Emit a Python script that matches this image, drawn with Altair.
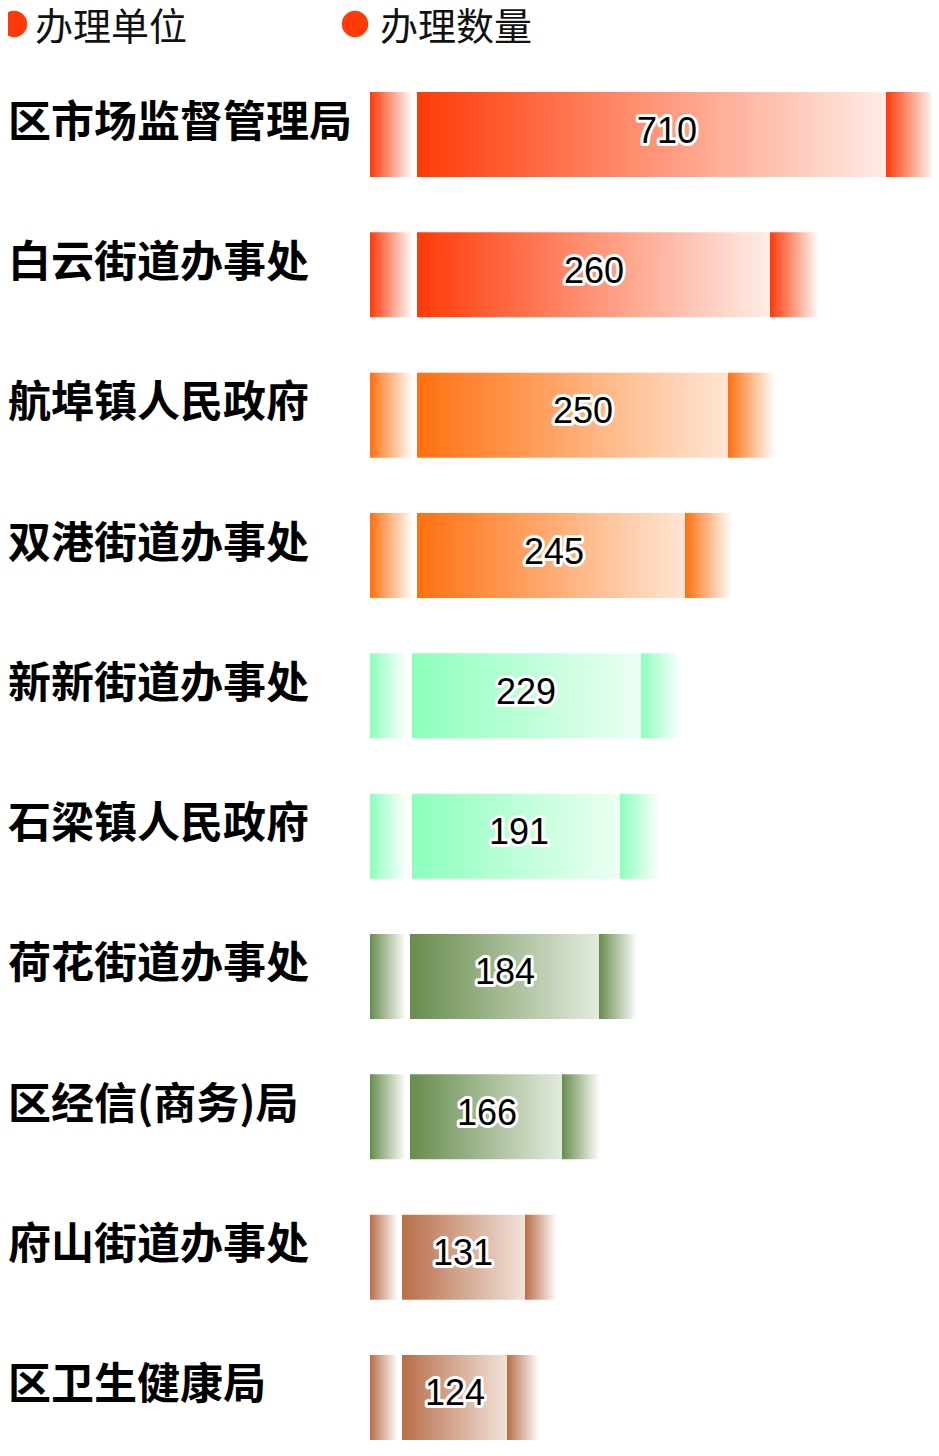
import altair as alt
import pandas as pd

# ---------------- data ----------------
UNITS = ["区市场监督管理局", "白云街道办事处", "航埠镇人民政府", "双港街道办事处",
         "新新街道办事处", "石梁镇人民政府", "荷花街道办事处", "区经信(商务)局",
         "府山街道办事处", "区卫生健康局"]
VALUES = [710, 260, 250, 245, 229, 191, 184, 166, 131, 124]
GROUPS = ["red", "red", "orange", "orange", "mint", "mint", "green", "green", "brown", "brown"]
LEGEND = ["办理单位", "办理数量"]

df = pd.DataFrame({"unit": UNITS, "value": VALUES, "group": GROUPS})

# ---------------- styles ----------------
STYLE = {
    "red":    dict(c="#FF3A08", light="#FFEDE6", shift=0,   gap=4, rcap=49),
    "orange": dict(c="#FF7010", light="#FFE6D4", shift=0,   gap=4, rcap=47),
    "mint":   dict(c="#8CFFBC", light="#ECFFF3", shift=-5,  gap=5, rcap=40),
    "green":  dict(c="#678C4C", light="#E2EADD", shift=-7,  gap=4, rcap=38),
    "brown":  dict(c="#B86E48", light="#F1E2DA", shift=-15, gap=4, rcap=32),
}

# decorative (non-linear) x scale: value -> pixel of bar end
BASE_PX = 409   # where value 0 (start of main bar) sits
CAP_LEFT_PX = 362
END_PX = {124: 499, 131: 517, 166: 554, 184: 591, 191: 612,
          229: 633, 245: 677, 250: 720, 260: 762, 710: 878}
dom = [0] + sorted(END_PX)
rng = [BASE_PX] + [END_PX[v] for v in sorted(END_PX)]
XS = alt.Scale(domain=dom, range=rng, zero=False, nice=False)

# value-label scale: where each number label is centred
LABEL_PX = {124: 447, 131: 455, 166: 479, 184: 497, 191: 511,
            229: 518, 245: 546, 250: 575, 260: 586, 710: 659}
tdom = sorted(LABEL_PX)
XT = alt.Scale(domain=tdom, range=[LABEL_PX[v] for v in tdom], zero=False, nice=False)

YS = alt.Scale(range=[84, 1432], paddingInner=0.394, paddingOuter=0)
Y = alt.Y("unit:N", sort=UNITS, scale=YS, axis=None)


def grad(c1, c2):
    return alt.LinearGradient(
        gradient="linear", x1=0, x2=1, y1=0, y2=0,
        stops=[alt.GradientStop(offset=0, color=c1),
               alt.GradientStop(offset=1, color=c2)])


base = alt.Chart(df).transform_calculate(zero="0")
bar_layers = []
for g, s in STYLE.items():
    sub = base.transform_filter(alt.datum.group == g)
    # left cap
    bar_layers.append(
        sub.mark_bar(color=grad(s["c"], "#FFFFFF"),
                     xOffset=CAP_LEFT_PX - BASE_PX,
                     x2Offset=s["shift"] - s["gap"]).encode(
            x=alt.X("zero:Q", scale=XS, axis=None),
            x2=alt.X2("zero:Q"),
            y=Y))
    # main bar
    bar_layers.append(
        sub.mark_bar(color=grad(s["c"], s["light"]), xOffset=s["shift"]).encode(
            x=alt.X("zero:Q", scale=XS, axis=None),
            x2=alt.X2("value:Q"),
            y=Y))
    # right cap
    bar_layers.append(
        sub.mark_bar(color=grad(s["c"], "#FFFFFF"), x2Offset=s["rcap"]).encode(
            x=alt.X("value:Q", scale=XS, axis=None),
            x2=alt.X2("value:Q"),
            y=Y))

bars = alt.layer(*bar_layers)

tbase = alt.Chart(df)
halo = tbase.mark_text(font="Liberation Sans", fontSize=36, stroke="white",
                       strokeWidth=6, strokeJoin="round", color="white",
                       baseline="middle", align="center", dy=-3).encode(
    x=alt.X("value:Q", scale=XT, axis=None), y=Y, text="value:Q")
txt = tbase.mark_text(font="Liberation Sans", fontSize=36, color="#000000",
                      baseline="middle", align="center", dy=-3).encode(
    x=alt.X("value:Q", scale=XT, axis=None), y=Y, text="value:Q")
values_layer = alt.layer(halo, txt)

labels = tbase.mark_text(font="Noto Sans CJK SC", fontWeight="bold", fontSize=43,
                         color="#000000", align="left", baseline="middle",
                         dy=-11).encode(
    x=alt.value(0), y=Y, text="unit:N")

leg_df = pd.DataFrame({"t": LEGEND})
leg1 = alt.Chart(leg_df).transform_filter(alt.datum.t == LEGEND[0])
leg2 = alt.Chart(leg_df).transform_filter(alt.datum.t == LEGEND[1])
legend = alt.layer(
    leg1.mark_circle(size=700, color="#FF3A08", opacity=1).encode(
        x=alt.value(6), y=alt.value(16)),
    leg1.mark_text(font="Noto Sans CJK SC", fontSize=38, align="left",
                   baseline="middle", color="#111111").encode(
        x=alt.value(27), y=alt.value(21), text="t:N"),
    leg2.mark_circle(size=700, color="#FF3A08", opacity=1).encode(
        x=alt.value(347), y=alt.value(16)),
    leg2.mark_text(font="Noto Sans CJK SC", fontSize=38, align="left",
                   baseline="middle", color="#111111").encode(
        x=alt.value(372), y=alt.value(21), text="t:N"),
)

chart = alt.layer(bars, values_layer, labels, legend).resolve_scale(
    x="independent"
).properties(
    width=923, height=1440, padding=0,
    autosize=alt.AutoSizeParams(type="none"),
).configure_view(stroke=None)

chart.save("out.html", embed_options={"renderer": "svg", "actions": False})
